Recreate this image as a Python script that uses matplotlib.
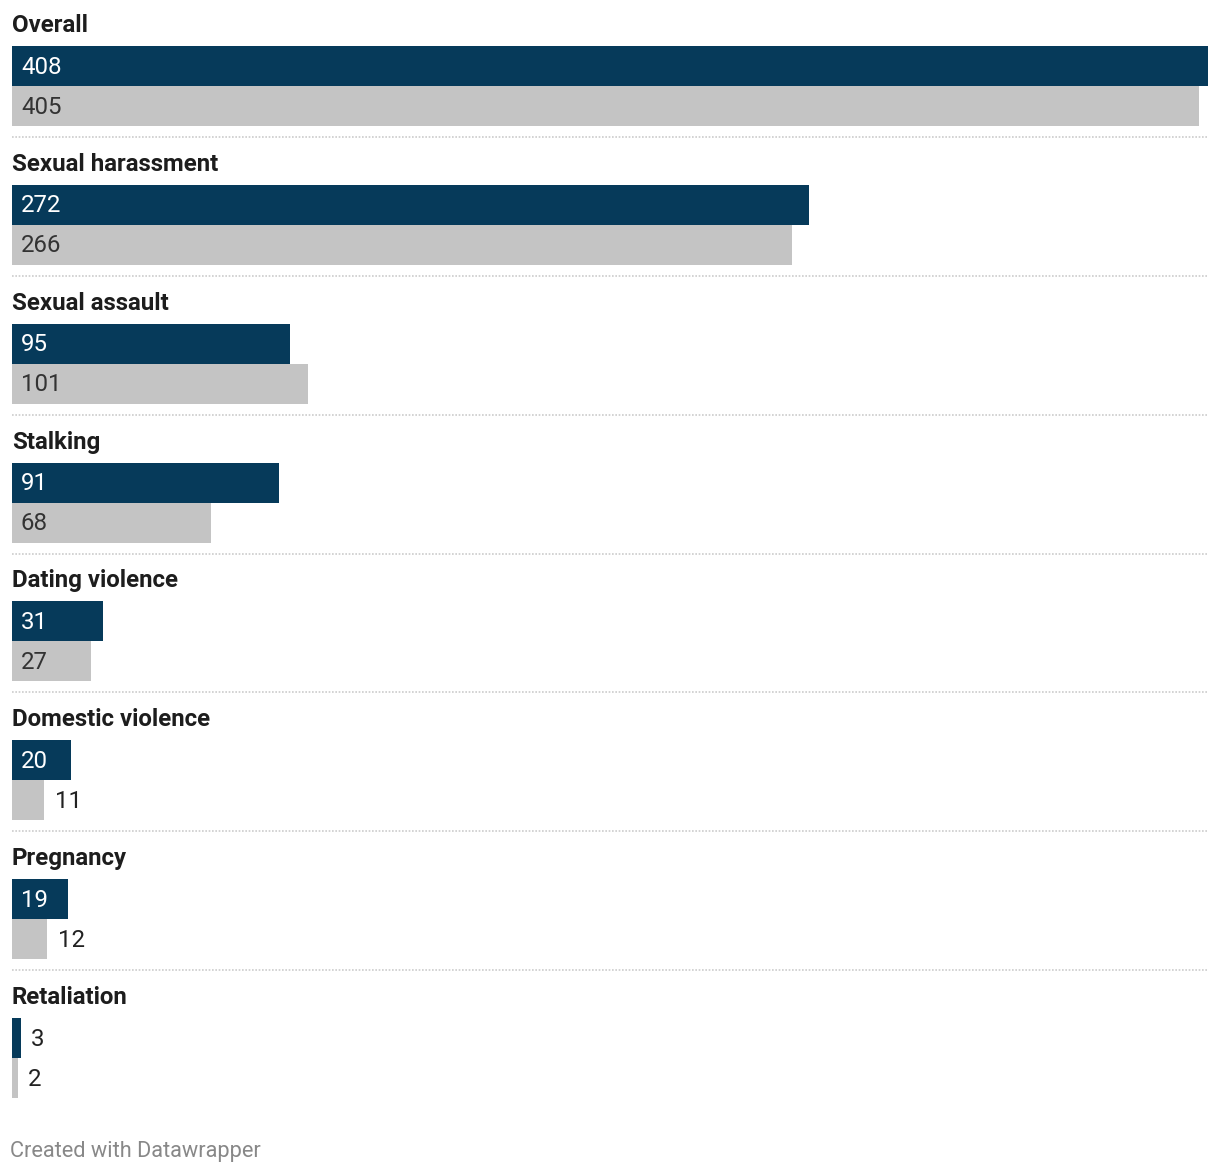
import matplotlib
matplotlib.use("Agg")
import matplotlib.pyplot as plt

categories = ["Overall", "Sexual harassment", "Sexual assault", "Stalking",
              "Dating violence", "Domestic violence", "Pregnancy", "Retaliation"]
series_a = [408, 272, 95, 91, 31, 20, 19, 3]
series_b = [405, 266, 101, 68, 27, 11, 12, 2]

DARK = "#063a5a"
GRAY = "#c4c4c4"

plt.rcParams["font.family"] = ["Roboto", "DejaVu Sans"]

W, H = 1220, 1176
fig = plt.figure(figsize=(W / 100, H / 100), dpi=100)
ax = fig.add_axes([0, 0, 1, 1])
ax.axis("off")

x0_px, x1_px = 12, 1208
vmax = max(series_a)
scale = (x1_px - x0_px) / vmax  # px per unit
ax.set_xlim(-x0_px / scale, (W - x0_px) / scale)
ax.set_ylim(H, 0)

period = 138.86
first_top = 46
bar_h = 40

for i, cat in enumerate(categories):
    top = first_top + i * period
    ya = top + bar_h / 2
    yb = top + bar_h * 1.5
    ax.barh(ya, series_a[i], height=bar_h, color=DARK, left=0)
    ax.barh(yb, series_b[i], height=bar_h, color=GRAY, left=0)
    ax.text(0, top - 20.5, cat, fontsize=17.3, fontweight="bold", color="#1d1d1d",
            va="center", ha="left")
    for val, y, inside_color in ((series_a[i], ya, "white"), (series_b[i], yb, "#333333")):
        if val >= 15:
            ax.text(9 / scale, y + 1, str(val), fontsize=17.3, color=inside_color,
                    va="center", ha="left")
        else:
            ax.text(val + 10.5 / scale, y + 1, str(val), fontsize=17.3, color="#222222",
                    va="center", ha="left")
    if i < len(categories) - 1:
        ax.plot([0, vmax], [top + 91, top + 91], color="#cccccc", lw=1.2,
                linestyle=(0, (1, 1)), solid_capstyle="butt")

ax.text(-2 / scale, 1151, "Created with Datawrapper", fontsize=15.7, color="#888888",
        va="center", ha="left")

fig.savefig("out.png", dpi=100)
